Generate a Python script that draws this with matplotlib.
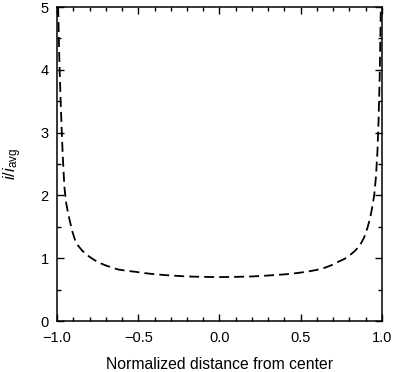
import matplotlib
matplotlib.use("Agg")
import matplotlib.pyplot as plt
from matplotlib.ticker import MultipleLocator

plt.rcParams["font.family"] = ["Liberation Sans", "DejaVu Sans"]
plt.rcParams["mathtext.fontset"] = "custom"
plt.rcParams["mathtext.rm"] = "Liberation Sans"
plt.rcParams["mathtext.it"] = "Liberation Sans:italic"

# values
dist = [-0.993, -0.986, -0.979, -0.972, -0.965, -0.955, -0.945, -0.932,
        -0.92, -0.905, -0.889, -0.87, -0.848, -0.82, -0.787, -0.75,
        -0.705, -0.66, -0.623, -0.57, -0.52, -0.45, -0.40, -0.30,
        -0.20, -0.10, 0.0, 0.10, 0.20, 0.30, 0.41, 0.48,
        0.537, 0.59, 0.639, 0.69, 0.731, 0.77, 0.803, 0.835,
        0.865, 0.89, 0.91, 0.925, 0.937, 0.952, 0.963, 0.972,
        0.979, 0.986, 0.993]
ratio = [5.0, 4.2, 3.6, 3.1, 2.65, 2.15, 1.90, 1.72,
         1.58, 1.42, 1.29, 1.20, 1.13, 1.06, 1.00, 0.94,
         0.89, 0.85, 0.82, 0.80, 0.785, 0.76, 0.745, 0.725,
         0.71, 0.703, 0.70, 0.703, 0.71, 0.725, 0.745, 0.765,
         0.785, 0.81, 0.84, 0.89, 0.944, 0.99, 1.05, 1.12,
         1.21, 1.33, 1.48, 1.62, 1.77, 2.0, 2.3, 2.7,
         3.2, 3.9, 5.0]

fig = plt.figure(figsize=(3.94, 3.72), dpi=100)
ax = fig.add_axes([0.1447, 0.137, 0.8248, 0.844])

ax.plot(dist, ratio, c="black", lw=1.3, dashes=(5.5, 2.8))

ax.set_xlim(-1.0, 1.0)
ax.set_ylim(0, 5)
ax.xaxis.set_major_locator(MultipleLocator(0.5))
ax.xaxis.set_minor_locator(MultipleLocator(0.1))
ax.yaxis.set_major_locator(MultipleLocator(1))
ax.yaxis.set_minor_locator(MultipleLocator(0.5))
ax.set_xticks([-1.0, -0.5, 0.0, 0.5, 1.0])
ax.set_xticklabels(["\u22121.0", "\u22120.5", "0.0", "0.5", "1.0"])

ax.tick_params(which="both", direction="in", top=True, right=True, labelsize=10.5)
ax.tick_params(axis="x", pad=7)
ax.tick_params(axis="y", pad=6)
ax.tick_params(which="major", length=5, width=1)
ax.tick_params(which="minor", length=3, width=1)
for s in ax.spines.values():
    s.set_linewidth(1.1)

ax.set_xlabel("Normalized distance from center", fontsize=11.3, labelpad=9)
ax.set_ylabel(r"$\mathit{i}/\mathit{i}_{\mathrm{avg}}$", fontsize=12, labelpad=12)

fig.savefig("out.png", dpi=100)
